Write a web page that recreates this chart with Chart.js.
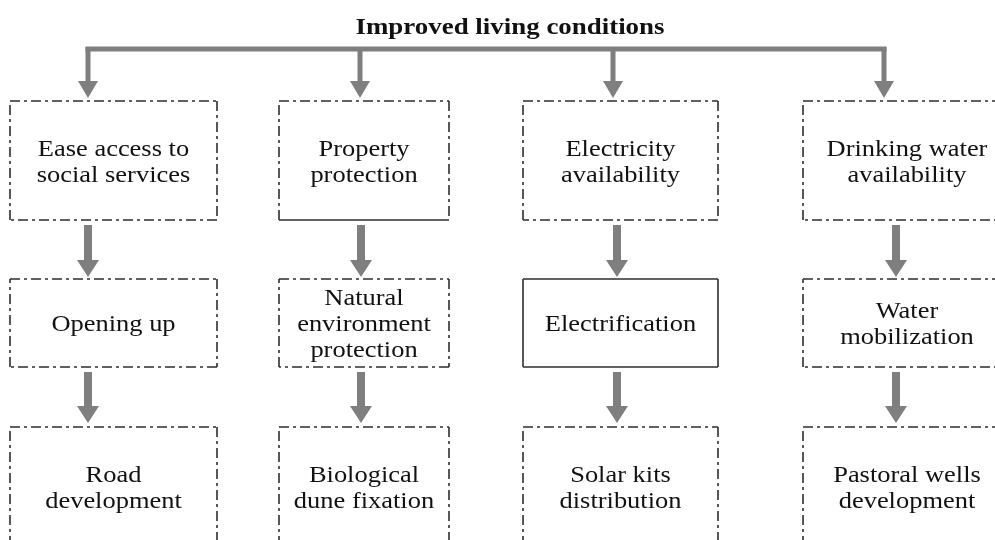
<!DOCTYPE html>
<html>
<head>
<meta charset="utf-8">
<script src="https://cdn.jsdelivr.net/npm/chart.js@4"></script>
<style>
  html, body { margin: 0; padding: 0; background: #fff; }
  #wrap { width: 995px; height: 540px; }
</style>
</head>
<body>
<div id="wrap"><canvas id="flow" width="995" height="540"></canvas></div>
<script>
// ---- data (text of the diagram) ----
const title = 'Improved living conditions';
const goals = [
    ['Ease access to', 'social services'],
    ['Property', 'protection'],
    ['Electricity', 'availability'],
    ['Drinking water', 'availability']
];
const means = [
    ['Opening up'],
    ['Natural', 'environment', 'protection'],
    ['Electrification'],
    ['Water', 'mobilization']
];
const actions = [
    ['Road', 'development'],
    ['Biological', 'dune fixation'],
    ['Solar kits', 'distribution'],
    ['Pastoral wells', 'development']
];

// ---- layout (in scale units, 1 unit = 1 px of the reference) ----
const colLeft = [10, 279, 523, 803];
const colWidth = [207, 170, 195, 208];
const rowTop = [101, 279, 427];
const rowHeight = [119, 88, 119];
const topArrowX = [88, 360, 613, 884];
const midArrowX = [88, 361, 617, 896];
// border style per row / column: 'dash', 'solid', 'dashSolidBottom'
const borderStyle = [
    ['dash', 'dashSolidBottom', 'dash', 'dash'],
    ['dash', 'dash', 'solid', 'dash'],
    ['dash', 'dash', 'dash', 'dash']
];

const ARROW = '#7f7f7f';
const INK = '#111111';
const BORDER = '#2e2e2e';
const STRETCH = 1.15; // text in the reference is horizontally stretched

const flowPlugin = {
    id: 'flow',
    afterDraw(chart) {
        const ctx = chart.ctx;
        const sx = chart.scales.x;
        const sy = chart.scales.y;
        const px = v => sx.getPixelForValue(v);
        const py = v => sy.getPixelForValue(v);

        // title
        drawText(ctx, title, px(510), py(28), 'bold 23px "Liberation Serif", "Times New Roman", serif', 1.17);

        // top bracket + arrows
        ctx.save();
        ctx.strokeStyle = ARROW;
        ctx.lineWidth = 5;
        ctx.lineCap = 'butt';
        ctx.beginPath();
        ctx.moveTo(px(topArrowX[0] - 2.5), py(49));
        ctx.lineTo(px(topArrowX[3] + 2.5), py(49));
        ctx.stroke();
        ctx.restore();
        topArrowX.forEach(x => {
            drawArrow(ctx, px(x), py(47), py(98), 5, 20, 17);
        });

        // boxes
        [goals, means, actions].forEach((row, r) => {
            row.forEach((lines, c) => {
                const x0 = px(colLeft[c]);
                const x1 = px(colLeft[c] + colWidth[c]);
                const y0 = py(rowTop[r]);
                const y1 = py(rowTop[r] + rowHeight[r]);
                drawBox(ctx, x0, y0, x1, y1, borderStyle[r][c]);
                const cx = px(colLeft[c] + colWidth[c] / 2);
                const cy = py(rowTop[r] + rowHeight[r] / 2 + 2);
                const lh = 26;
                lines.forEach((ln, i) => {
                    const y = cy + (i - (lines.length - 1) / 2) * lh;
                    drawText(ctx, ln, cx, y, '23px "Liberation Serif", "Times New Roman", serif', STRETCH);
                });
            });
        });

        // arrows between rows
        midArrowX.forEach(x => {
            drawArrow(ctx, px(x), py(225), py(277), 8, 22, 17);
            drawArrow(ctx, px(x), py(372), py(423), 8, 22, 17);
        });
    }
};

function drawText(ctx, text, x, y, font, scaleX) {
    ctx.save();
    ctx.font = font;
    ctx.fillStyle = INK;
    ctx.textAlign = 'center';
    ctx.textBaseline = 'middle';
    ctx.translate(x, y);
    ctx.scale(scaleX, 1);
    ctx.fillText(text, 0, 0);
    ctx.restore();
}

function drawArrow(ctx, x, yTop, yTip, shaft, headW, headH) {
    ctx.save();
    ctx.fillStyle = ARROW;
    ctx.fillRect(x - shaft / 2, yTop, shaft, yTip - headH - yTop + 1);
    ctx.beginPath();
    ctx.moveTo(x - headW / 2, yTip - headH);
    ctx.lineTo(x + headW / 2, yTip - headH);
    ctx.lineTo(x, yTip);
    ctx.closePath();
    ctx.fill();
    ctx.restore();
}

function drawBox(ctx, x0, y0, x1, y1, style) {
    ctx.save();
    ctx.strokeStyle = BORDER;
    ctx.lineWidth = 1.6;
    const dash = [10, 4, 3, 4];
    const seg = (ax, ay, bx, by, solid) => {
        ctx.setLineDash(solid ? [] : dash);
        ctx.beginPath();
        ctx.moveTo(ax, ay);
        ctx.lineTo(bx, by);
        ctx.stroke();
    };
    const allSolid = style === 'solid';
    seg(x0, y0, x1, y0, allSolid);
    seg(x1, y0, x1, y1, allSolid);
    seg(x1, y1, x0, y1, allSolid || style === 'dashSolidBottom');
    seg(x0, y1, x0, y0, allSolid);
    ctx.restore();
}

const chart = new Chart(document.getElementById('flow'), {
    type: 'scatter',
    data: { datasets: [] },
    options: {
        responsive: false,
        animation: false,
        layout: { padding: 0 },
        scales: {
            x: { type: 'linear', min: 0, max: 995, display: false },
            y: { type: 'linear', min: 0, max: 540, reverse: true, display: false }
        },
        plugins: {
            legend: { display: false },
            tooltip: { enabled: false }
        }
    },
    plugins: [flowPlugin]
});
</script>
</body>
</html>
